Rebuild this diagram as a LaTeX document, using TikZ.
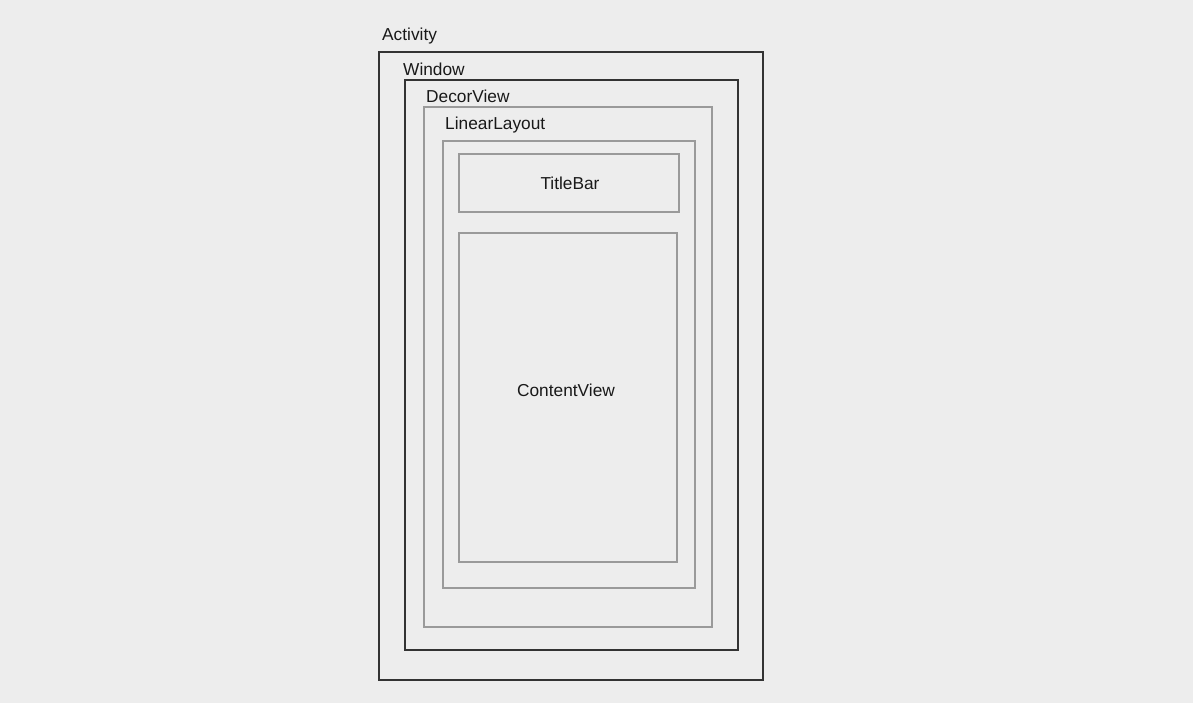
\documentclass[tikz,border=0pt]{standalone}
\usepackage{fontspec}
\setmainfont{Liberation Sans}
\definecolor{bg}{HTML}{EDEDED}
\definecolor{darkline}{HTML}{333333}
\definecolor{grayline}{HTML}{9A9A9A}
\begin{document}
\begin{tikzpicture}[x=1pt,y=-1pt,
  darkbox/.style={draw=darkline,line width=1.8pt},
  graybox/.style={draw=grayline,line width=1.8pt},
  lbl/.style={font=\fontsize{17.3}{20}\selectfont,text=black!90,inner sep=0pt,anchor=west},
  clbl/.style={font=\fontsize{17.3}{20}\selectfont,text=black!90,inner sep=0pt}]
\fill[bg] (0,0) rectangle (1193,703);
\useasboundingbox (0,0) rectangle (1193,703);
\draw[darkbox] (379,52) rectangle (763,680);
\draw[darkbox] (405,80) rectangle (738,650);
\draw[graybox] (424,107) rectangle (712,627);
\draw[graybox] (443,141) rectangle (695,588);
\draw[graybox] (459,154) rectangle (679,212);
\draw[graybox] (459,233) rectangle (677,562);
\node[lbl] (activity) at (382,36) {Activity};
\node[lbl] (window) at (403,69) {Window};
\node[lbl] (decor) at (426,96) {DecorView};
\node[lbl] (linear) at (445,125) {LinearLayout};
\node[clbl] (title) at (570,183) {TitleBar};
\node[clbl] (content) at (566,390) {ContentView};
\end{tikzpicture}
\end{document}
